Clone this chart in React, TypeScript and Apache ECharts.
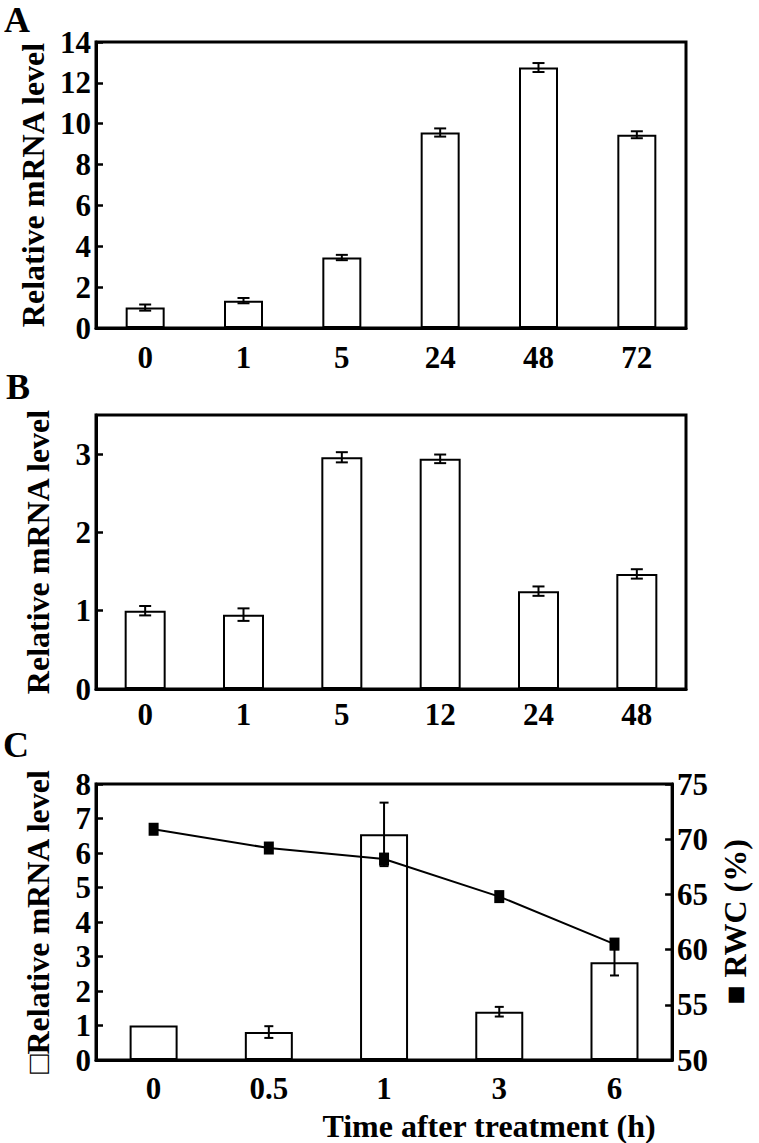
import React, { useEffect, useRef } from "react";
import * as echarts from "echarts";

const catA = ["0", "1", "5", "24", "48", "72"];
const valA = [1.0, 1.34, 3.45, 9.57, 12.75, 9.46];
const errA = [0.15, 0.13, 0.13, 0.2, 0.22, 0.17];

const catB = ["0", "1", "5", "12", "24", "48"];
const valB = [1.0, 0.95, 2.96, 2.94, 1.25, 1.47];
const errB = [0.06, 0.08, 0.065, 0.055, 0.06, 0.06];

const catC = ["0", "0.5", "1", "3", "6"];
const valC = [1.0, 0.81, 6.54, 1.4, 2.83];
const errC = [0, 0.17, 0.92, 0.14, 0.38];
const rwcC = [70.9, 69.2, 68.2, 64.8, 60.5];

const yTicksA = [0, 2, 4, 6, 8, 10, 12, 14];
const yTicksB = [0, 1, 2, 3];
const yTicksC = [0, 1, 2, 3, 4, 5, 6, 7, 8];
const yTicksC2 = [50, 55, 60, 65, 70, 75];

const FONT = "Liberation Serif";

function errSeries(vals: number[], errs: number[], xi: number, yi: number, cap: number) {
  return {
    type: "custom",
    xAxisIndex: xi,
    yAxisIndex: yi,
    z: 3,
    silent: true,
    data: vals.map((v, i) => [i, v, errs[i]]),
    encode: { x: 0, y: 1 },
    renderItem: (params: any, api: any) => {
      const x = api.value(0);
      const y = api.value(1);
      const e = api.value(2);
      if (!e) return null;
      const top = api.coord([x, y + e]);
      const bot = api.coord([x, y - e]);
      const st = { stroke: "#000", lineWidth: 2 };
      return {
        type: "group",
        children: [
          { type: "line", shape: { x1: top[0], y1: top[1], x2: bot[0], y2: bot[1] }, style: st },
          { type: "line", shape: { x1: top[0] - cap, y1: top[1], x2: top[0] + cap, y2: top[1] }, style: st },
          { type: "line", shape: { x1: bot[0] - cap, y1: bot[1], x2: bot[0] + cap, y2: bot[1] }, style: st },
        ],
      };
    },
  };
}

const labelStyle = {
  fontFamily: FONT,
  fontWeight: "bold",
  fontSize: 31,
  color: "#000",
};

function yAxisCfg(gi: number, min: number, max: number, ticks: number[], name: string, pos = "left") {
  return {
    type: "value",
    gridIndex: gi,
    position: pos,
    min,
    max,
    name,
    nameLocation: "middle",
    nameRotate: 90,
    nameGap: 42,
    nameTextStyle: { fontFamily: FONT, fontWeight: "bold", fontSize: 32, color: "#000" },
    axisLine: { show: true, lineStyle: { color: "#000", width: 3 } },
    axisTick: { show: true, inside: true, length: 7, lineStyle: { color: "#000", width: 2.5 }, customValues: ticks },
    axisLabel: { ...labelStyle, margin: 5, customValues: ticks },
    splitLine: { show: false },
  };
}

function xAxisCfg(gi: number, cats: string[], margin: number, name = "") {
  return {
    type: "category",
    gridIndex: gi,
    data: cats,
    name,
    nameLocation: "middle",
    nameGap: 50,
    nameTextStyle: { fontFamily: FONT, fontWeight: "bold", fontSize: 32, color: "#000", padding: [0, 0, 0, 210] },
    axisLine: { show: true, lineStyle: { color: "#000", width: 3 } },
    axisTick: { show: false },
    axisLabel: { ...labelStyle, margin },
  };
}

const gridStyle = { show: true, borderColor: "#000", borderWidth: 3, backgroundColor: "transparent", containLabel: false };

const barStyle = { color: "#fff", borderColor: "#000", borderWidth: 2 };

export default function App() {
  const ref = useRef<HTMLDivElement>(null);
  useEffect(() => {
    if (!ref.current) return;
    const chart = echarts.init(ref.current, null, { renderer: "svg" });
    chart.setOption({
      animation: false,
      backgroundColor: "#fff",
      grid: [
        { ...gridStyle, left: 96, top: 42, width: 590, height: 286 },
        { ...gridStyle, left: 96, top: 415, width: 590, height: 274 },
        { ...gridStyle, left: 96, top: 784, width: 588, height: 287 },
      ],
      xAxis: [
        xAxisCfg(0, catA, 14),
        xAxisCfg(1, catB, 10),
        xAxisCfg(2, catC, 13, "Time after treatment (h)"),
      ],
      yAxis: [
        yAxisCfg(0, 0, 14, yTicksA, "Relative mRNA level"),
        yAxisCfg(1, 0, 3.5, yTicksB, "Relative mRNA level"),
        yAxisCfg(2, 0, 8, yTicksC, "□Relative mRNA level"),
        yAxisCfg(2, 50, 75, yTicksC2, "■ RWC (%)", "right"),
      ],
      graphic: [
        { type: "text", left: 4, top: 2, style: { text: "A", font: `bold 36px ${FONT}`, fill: "#000" } },
        { type: "text", left: 6, top: 369, style: { text: "B", font: `bold 36px ${FONT}`, fill: "#000" } },
        { type: "text", left: 3, top: 727, style: { text: "C", font: `bold 36px ${FONT}`, fill: "#000" } },
      ],
      series: [
        { type: "bar", xAxisIndex: 0, yAxisIndex: 0, data: valA, barWidth: 39, itemStyle: barStyle, z: 2 },
        errSeries(valA, errA, 0, 0, 6),
        { type: "bar", xAxisIndex: 1, yAxisIndex: 1, data: valB, barWidth: 41, itemStyle: barStyle, z: 2 },
        errSeries(valB, errB, 1, 1, 6),
        { type: "bar", xAxisIndex: 2, yAxisIndex: 2, data: valC, barWidth: 48, itemStyle: barStyle, z: 2 },
        errSeries(valC, errC, 2, 2, 4.5),
        {
          type: "line",
          xAxisIndex: 2,
          yAxisIndex: 3,
          data: rwcC,
          symbol: "rect",
          symbolSize: [10, 13],
          lineStyle: { color: "#000", width: 2 },
          itemStyle: { color: "#000" },
          z: 4,
        },
      ],
    });
    return () => chart.dispose();
  }, []);
  return <div ref={ref} style={{ position: "absolute", left: 0, top: 0, width: 759, height: 1143 }} />;
}
